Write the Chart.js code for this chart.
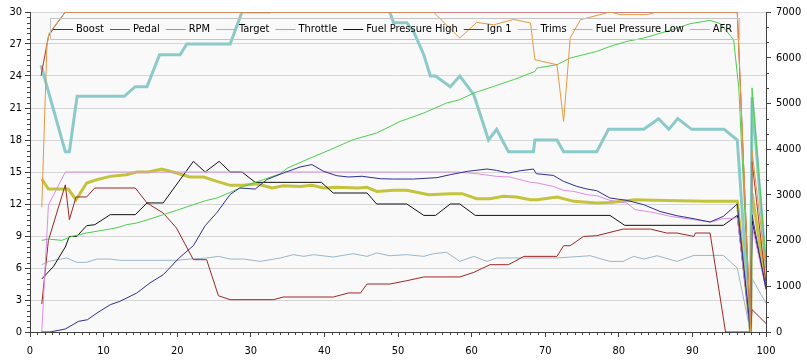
<!DOCTYPE html>
<html>
<head>
<meta charset="utf-8">
<script src="https://cdn.jsdelivr.net/npm/chart.js@4.4.0/dist/chart.umd.min.js"></script>
<style>
  html, body { margin: 0; padding: 0; background: #fff; }
  #wrap { width: 807px; height: 362px; position: relative; }
</style>
</head>
<body>
<div id="wrap"><canvas id="log_Chart"></canvas></div>
<script>
// log data, x = position in log (0-100), left axis 0-30, RPM on right axis
const boostX = [1.6, 2.7, 4.8, 6.6, 7.8, 9.1, 10.9, 12.2, 14.5, 16.3, 18.1, 20.2, 22.2, 23.8, 25.4, 27.2, 28.5, 30.6, 32.2, 34.4, 36.7, 38.3, 39.9, 41.7, 43.3, 45.1, 47.6, 49.4, 52.1, 55.3, 57.1, 59.4, 62.1, 63.4, 65.0, 66.6, 68.4, 68.8, 71.1, 72.5, 74.3, 75.7, 77.0, 78.8, 81.1, 83.4, 85.6, 87.9, 90.2, 92.4, 94.2, 96.1, 97.9, 98.1, 100];
const boostY = [0, 0, 0.28, 1.0, 1.15, 1.78, 2.56, 2.87, 3.65, 4.6, 5.37, 6.9, 8.1, 9.97, 11.2, 12.9, 13.5, 13.4, 14.3, 14.9, 15.47, 15.7, 15.06, 14.65, 14.53, 14.6, 14.37, 14.34, 14.34, 14.47, 14.75, 15.06, 15.28, 15.15, 14.9, 15.12, 15.28, 14.84, 14.68, 14.12, 13.65, 13.4, 13.25, 12.56, 12.34, 11.93, 11.3, 10.9, 10.62, 10.31, 10.84, 12.0, 0, 11, 4];

const pedalX = [1.5, 2.5, 3.2, 4.8, 96.1, 97.9, 98.1, 100];
const pedalY = [24, 27.7, 28.5, 30, 30, 0, 16, 4.5];

const rpmX = [1.6, 2.5, 4.3, 5.7, 7.7, 10.9, 12.2, 13.1, 14.5, 16.3, 18.1, 19.9, 22.2, 24.0, 25.4, 27.2, 29.0, 31.7, 34.0, 35.0, 38.1, 40.8, 43.9, 47.1, 50.3, 53.5, 56.6, 58.4, 60.3, 63.0, 65.7, 68.6, 68.9, 71.6, 73.4, 77.0, 78.8, 81.1, 83.4, 86.5, 89.7, 92.4, 93.8, 95.6, 96.3, 97.9, 98.1, 100];
const rpmY = [2004, 2034, 2004, 2091, 2166, 2253, 2297, 2347, 2384, 2472, 2566, 2660, 2785, 2879, 2931, 3054, 3185, 3332, 3463, 3587, 3806, 3988, 4207, 4353, 4607, 4790, 5009, 5082, 5228, 5373, 5519, 5700, 5775, 5847, 5994, 6138, 6248, 6357, 6431, 6576, 6744, 6817, 6744, 6394, 5340, 0, 5340, 1500];

const targetX = [1.6, 2.5, 4.8, 58.0, 60.7, 63.4, 65.2, 68.0, 68.9, 71.1, 72.5, 73.9, 75.7, 77.0, 78.8, 81.1, 82.2, 84.7, 87.0, 90.2, 92.4, 94.2, 96.1, 97.9, 98.1, 100];
const targetY = [0, 11.9, 15, 15, 14.84, 14.59, 14.53, 14.03, 13.97, 13.65, 13.28, 13.18, 12.87, 12.78, 12.34, 12.09, 11.47, 11.21, 10.84, 10.53, 10.31, 10.62, 10.7, 0, 10, 4];

const throttleX = [1.6, 2.3, 2.6, 4.8, 54.8, 58.4, 60.7, 63.0, 65.7, 68.0, 68.6, 71.6, 72.5, 73.4, 74.8, 78.8, 80.2, 83.8, 85.2, 96.1, 97.9, 98.1, 100];
const throttleY = [11.7, 26.9, 28.0, 30, 30, 27.56, 29.03, 28.8, 29.3, 28.97, 25.53, 25.06, 19.74, 27.56, 29.28, 30, 29.75, 29.75, 30, 30, 0, 17, 5.8];

const fuelHighX = [1.6, 3.2, 4.8, 5.35, 6.35, 7.7, 8.8, 10.9, 14.3, 15.9, 18.1, 22.2, 23.8, 25.7, 27.2, 28.8, 30.6, 39.6, 41.2, 45.8, 47.1, 51.2, 53.5, 55.1, 57.1, 58.4, 60.5, 78.8, 80.8, 94.2, 96.1, 97.9, 98.1, 100];
const fuelHighY = [4.97, 6.15, 7.97, 8.96, 8.96, 9.97, 10.06, 11.0, 11.0, 12.1, 12.1, 16.0, 15.0, 16.0, 15.0, 15.0, 14.03, 14.03, 13.03, 13.03, 12.0, 12.0, 10.93, 10.93, 12.0, 12.0, 10.93, 10.93, 10.0, 10.0, 10.93, 0, 10.4, 4.1];

const ignX = [1.6, 2.5, 4.8, 5.35, 6.25, 7.7, 8.8, 14.3, 15.9, 18.1, 19.9, 22.2, 24.0, 25.6, 27.2, 33.1, 34.4, 41.2, 43.3, 44.9, 45.8, 48.9, 51.2, 53.5, 58.4, 60.3, 62.5, 65.0, 67.1, 71.6, 72.5, 73.4, 75.2, 77.0, 80.6, 84.3, 86.5, 87.9, 90.2, 90.4, 92.4, 94.5, 97.9, 98.1, 100];
const ignY = [2.62, 8.59, 13.8, 10.53, 12.66, 12.66, 13.5, 13.5, 12.1, 11.15, 9.75, 6.78, 6.78, 3.4, 3.03, 3.03, 3.28, 3.28, 3.66, 3.66, 4.5, 4.5, 4.81, 5.16, 5.16, 5.59, 6.31, 6.31, 7.09, 7.09, 8.09, 8.09, 8.96, 9.03, 9.65, 9.65, 9.28, 9.28, 8.96, 9.28, 9.28, 0, 0, 2.1, 0.8];

const trimsX = [1.5, 4.8, 5.35, 6.4, 12.8, 14.3, 15.9, 17.6, 20.4, 21.3, 27.2, 28.8, 32.6, 33.2, 47.3, 49.4, 51.2, 52.1, 53.5, 54.4, 55.1, 57.1, 58.4, 60.3, 62.3, 63.4, 65.0, 68.4, 68.6, 71.6, 72.5, 77.0, 78.6, 83.4, 85.4, 86.8, 88.0, 89.9, 94.3, 96.1, 97.9, 98.1, 100];
const trimsY = [25.0, 16.9, 16.9, 22.1, 22.1, 23.0, 23.0, 26.0, 26.0, 27.0, 27.0, 30, 30, 33, 33, 29.0, 29.0, 28.2, 26.0, 24.0, 24.0, 23.0, 24.0, 22.25, 18.0, 19.0, 16.9, 16.9, 18.0, 18.0, 16.9, 16.9, 19.0, 19.0, 20.0, 19.0, 20.0, 19.0, 19.0, 18.0, 0, 22, 6];

const fuelLowX = [1.6, 2.5, 5.0, 6.35, 7.7, 9.06, 10.9, 12.2, 19.9, 21.7, 24.0, 25.6, 27.2, 29.0, 31.3, 34.0, 35.8, 37.2, 38.5, 41.2, 43.9, 45.8, 47.1, 48.9, 51.2, 53.5, 54.8, 56.6, 58.4, 60.3, 62.1, 63.4, 68.0, 71.6, 76.1, 78.8, 80.6, 82.0, 83.4, 85.2, 87.9, 90.2, 94.2, 96.1, 97.9, 98.1, 100];
const fuelLowY = [6.31, 6.62, 6.94, 6.53, 6.53, 6.84, 6.84, 6.72, 6.72, 6.84, 6.94, 7.09, 6.84, 6.84, 6.62, 6.94, 7.25, 7.09, 7.25, 7.03, 7.34, 7.09, 7.41, 7.15, 7.25, 7.09, 7.34, 7.47, 6.62, 7.09, 6.62, 6.94, 6.94, 6.94, 7.15, 6.62, 6.62, 7.09, 6.84, 7.15, 6.62, 7.18, 7.18, 6.0, 0, 5.0, 2.7];

const afrX = [1.6, 2.5, 5.2, 6.25, 7.7, 9.06, 10.9, 13.1, 14.5, 16.1, 17.9, 19.9, 21.7, 23.6, 25.4, 27.2, 29.0, 30.8, 32.9, 34.4, 36.7, 38.3, 39.9, 41.7, 44.6, 45.8, 47.1, 49.4, 51.2, 54.2, 57.1, 58.7, 60.7, 62.5, 64.3, 66.1, 68.0, 68.9, 71.6, 73.9, 77.0, 78.8, 81.1, 82.2, 84.7, 92.0, 96.1, 97.9, 98.1, 100];
const afrY = [14.34, 13.4, 13.4, 12.4, 13.97, 14.28, 14.59, 14.75, 15.0, 15.0, 15.28, 14.9, 14.53, 14.53, 14.12, 13.75, 13.75, 13.9, 13.5, 13.71, 13.65, 13.75, 13.5, 13.56, 13.5, 13.56, 13.18, 13.28, 13.28, 12.87, 12.97, 12.97, 12.5, 12.5, 12.72, 12.66, 12.4, 12.4, 12.66, 12.25, 12.09, 12.15, 12.31, 12.4, 12.34, 12.25, 12.25, 0, 13.0, 4.4];

const FONT = '"DejaVu Sans Condensed", "DejaVu Sans", sans-serif';

function pts(xs, ys) {
    return xs.map((x, i) => ({x: x, y: ys[i]}));
}

function series(label, xs, ys, color, width, axis, order) {
    return {
        label: label,
        data: pts(xs, ys),
        borderColor: color,
        backgroundColor: color,
        borderWidth: width,
        pointRadius: 0,
        tension: 0,
        fill: false,
        yAxisID: axis,
        order: order || 0,
    };
}

// plot background
const areaBg = {
    id: 'areaBg',
    beforeDraw(chart) {
        const a = chart.chartArea;
        const ctx = chart.ctx;
        ctx.save();
        ctx.fillStyle = '#f9f9f9';
        ctx.fillRect(a.left, a.top, a.right - a.left, a.bottom - a.top);
        ctx.restore();
    }
};

// short minor ticks on the three axes
const minorTicks = {
    id: 'minorTicks',
    afterDraw(chart) {
        const ctx = chart.ctx;
        const sx = chart.scales.x, sy = chart.scales.y, sr = chart.scales.y1;
        ctx.save();
        ctx.strokeStyle = '#404040';
        ctx.lineWidth = 1;
        ctx.beginPath();
        for (let v = 0; v <= 100; v++) {
            if (v % 10 === 0) continue;
            const p = Math.round(sx.getPixelForValue(v)) + 0.5;
            ctx.moveTo(p, sx.top);
            ctx.lineTo(p, sx.top + 3);
        }
        for (let v = 0; v <= 60; v++) {
            if (v % 6 === 0) continue;
            const p = Math.round(sy.getPixelForValue(v / 2)) + 0.5;
            ctx.moveTo(sy.right, p);
            ctx.lineTo(sy.right - 3, p);
        }
        for (let v = 0; v <= 21; v++) {
            if (v % 3 === 0) continue;
            const p = Math.round(sr.getPixelForValue(v * 1000 / 3)) + 0.5;
            ctx.moveTo(sr.left, p);
            ctx.lineTo(sr.left + 3, p);
        }
        ctx.stroke();
        ctx.restore();
    }
};

// legend drawn inside the plot, one row with line samples
const inLegend = {
    id: 'inLegend',
    afterDatasetsDraw(chart) {
        const ctx = chart.ctx;
        const items = chart.data.datasets;
        const left = 50, top = 18, h = 21;
        ctx.save();
        ctx.font = '11px ' + FONT;
        ctx.textBaseline = 'middle';
        let x = left + 3;
        const cy = top + h / 2 + 0.5;
        items.forEach(ds => {
            ctx.strokeStyle = ds.borderColor;
            ctx.lineWidth = 1;
            ctx.beginPath();
            ctx.moveTo(x, Math.round(cy) + 0.5);
            ctx.lineTo(x + 20, Math.round(cy) + 0.5);
            ctx.stroke();
            ctx.fillStyle = '#000';
            ctx.fillText(ds.label, x + 23, cy);
            x += 23 + ctx.measureText(ds.label).width + 6;
        });
        ctx.strokeStyle = '#c4c4c4';
        ctx.strokeRect(left + 0.5, top + 0.5, x - left + 1, h);
        ctx.restore();
    }
};

const ctx = document.getElementById('log_Chart');
const graphData = {
    type: 'line',
    data: {
        datasets: [
            series('Boost', boostX, boostY, '#2e2e94', 1, 'y'),
            series('Pedal', pedalX, pedalY, '#b83030', 1, 'y'),
            series('RPM', rpmX, rpmY, '#4ccf4c', 1, 'y1'),
            series('Target', targetX, targetY, '#de8ee6', 1, 'y'),
            series('Throttle', throttleX, throttleY, '#e29a42', 1, 'y', -1),
            series('Fuel Pressure High', fuelHighX, fuelHighY, '#111111', 1, 'y'),
            series('Ign 1', ignX, ignY, '#a02626', 1, 'y'),
            series('Trims', trimsX, trimsY, '#8ccaca', 3, 'y'),
            series('Fuel Pressure Low', fuelLowX, fuelLowY, '#9ab6ca', 1, 'y'),
            series('AFR', afrX, afrY, '#c4c43c', 3, 'y'),
        ]
    },
    options: {
        responsive: true,
        maintainAspectRatio: false,
        animation: false,
        layout: { padding: { top: 12 } },
        plugins: {
            legend: { display: false },
            tooltip: { enabled: false },
        },
        scales: {
            x: {
                type: 'linear',
                min: 0,
                max: 100,
                ticks: { stepSize: 10, color: '#000', font: { family: FONT, size: 11 }, padding: 8, maxRotation: 0,
                         callback: v => String(v) },
                grid: { drawOnChartArea: false, tickLength: 5, tickColor: '#404040' },
                border: { color: '#404040' },
                afterFit(scale) { scale.height = 30; },
            },
            y: {
                position: 'left',
                min: 0,
                max: 30,
                ticks: { stepSize: 3, color: '#000', font: { family: FONT, size: 11 }, padding: 3,
                         callback: v => String(v) },
                grid: { color: '#d6d6d6', tickLength: 5, tickColor: '#404040' },
                border: { color: '#404040' },
                afterFit(scale) { scale.width = 30; },
            },
            y1: {
                position: 'right',
                min: 0,
                max: 7000,
                ticks: { stepSize: 1000, color: '#000', font: { family: FONT, size: 11 }, padding: 5,
                         callback: v => String(v) },
                grid: { drawOnChartArea: false, tickLength: 5, tickColor: '#404040' },
                border: { color: '#404040' },
                afterFit(scale) { scale.width = 41; },
            }
        }
    },
    plugins: [areaBg, minorTicks, inLegend]
};

let log_Chart = new Chart(ctx, graphData);
</script>
</body>
</html>
